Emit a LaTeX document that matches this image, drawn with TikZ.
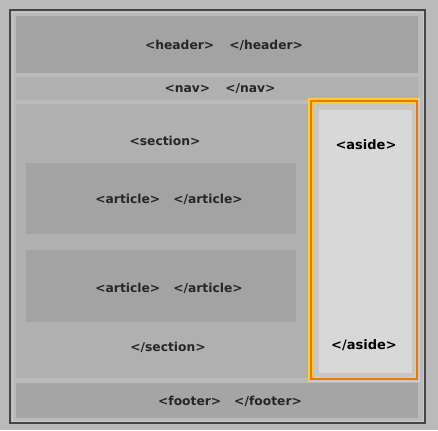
\documentclass[tikz,border=0pt]{standalone}
\usepackage{fontspec}
\setmainfont{DejaVu Sans}
\definecolor{bgc}{HTML}{BABABA}
\definecolor{framec}{HTML}{454545}
\definecolor{darkblk}{HTML}{A3A3A3}
\definecolor{lightblk}{HTML}{B0B0B0}
\definecolor{footc}{HTML}{A5A5A5}
\definecolor{txtc}{HTML}{262626}
\definecolor{asidering}{HTML}{C6C6C6}
\definecolor{asidefill}{HTML}{D8D8D8}
\definecolor{orangec}{HTML}{F07800}
\definecolor{yellowc}{HTML}{FFD23C}
\tikzset{
  tag/.style={font=\bfseries\fontsize{12.3}{14}\selectfont, text=txtc, inner sep=0pt},
  asidetag/.style={font=\bfseries\fontsize{13}{15}\selectfont, text=black, inner sep=0pt}
}
\begin{document}
\begin{tikzpicture}[x=1pt,y=-1pt]
\fill[bgc] (0,0) rectangle (438,430);
\useasboundingbox (0,0) rectangle (438,430);
% outer frame
\draw[framec, line width=2.2pt] (10,10) rectangle (425,423);
\draw[bgc!80!white, line width=0.8pt] (12,12) rectangle (423,421);
% blocks
\fill[darkblk] (16,16) rectangle (418,73);
\fill[lightblk] (16,77) rectangle (418,100);
\fill[lightblk] (16,104) rectangle (418,378);
\fill[darkblk] (26,163) rectangle (296,234);
\fill[darkblk] (26,250) rectangle (296,322);
\fill[footc] (16,383) rectangle (418,418);
% aside
\fill[asidering] (309,99) rectangle (419,381);
\fill[asidefill] (319,110) rectangle (412,373);
\draw[yellowc, line width=1.2pt] (308.6,98.6) rectangle (419.4,381.4);
\draw[orangec, line width=2pt] (310.6,100.6) rectangle (417.4,379.4);
\draw[yellowc, line width=1.2pt] (312.6,102.6) rectangle (415.4,377.4);
% labels
\node[tag] (header) at (224,45) {<header>\hspace{15pt}</header>};
\node[tag] (nav) at (220,89) {<nav>\hspace{15pt}</nav>};
\node[tag] (secopen) at (165,141) {<section>};
\node[tag] (art1) at (169,199) {<article>\hspace{13pt}</article>};
\node[tag] (art2) at (169,288) {<article>\hspace{13pt}</article>};
\node[tag] (secclose) at (168,347) {</section>};
\node[tag] (footer) at (230,401) {<footer>\hspace{13pt}</footer>};
\node[asidetag] (asideopen) at (366,145) {<aside>};
\node[asidetag] (asideclose) at (364,345) {</aside>};
\end{tikzpicture}
\end{document}
